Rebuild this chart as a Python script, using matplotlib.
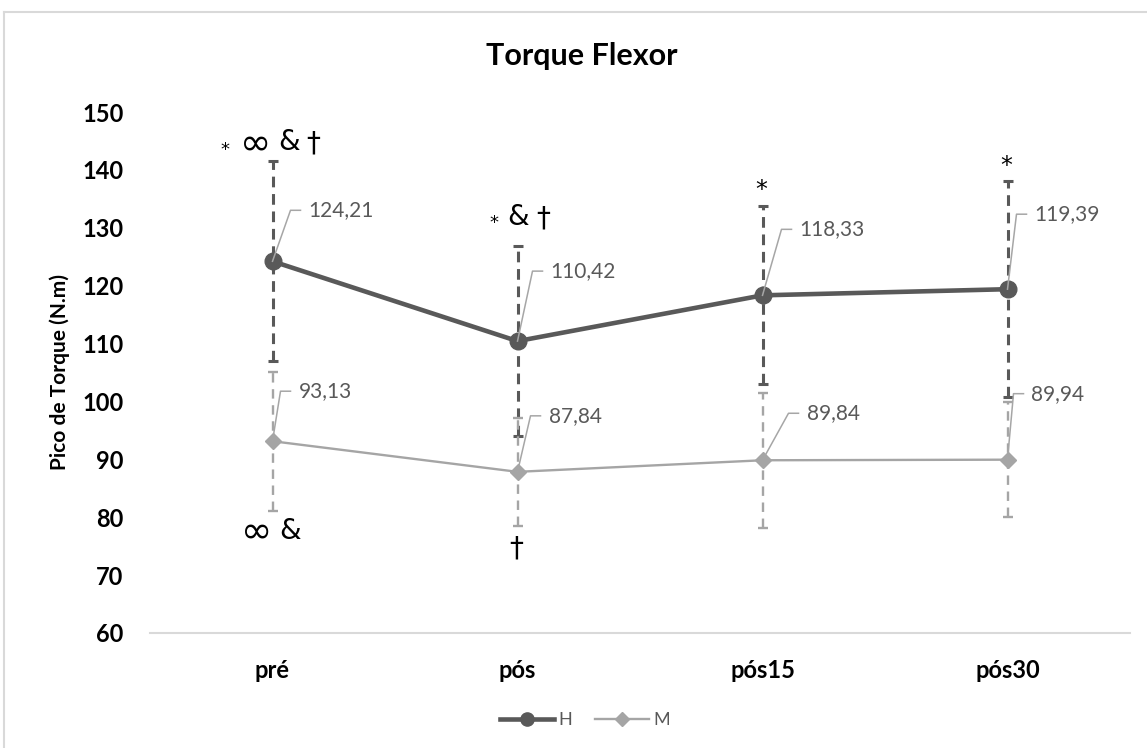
import matplotlib.pyplot as plt
import numpy as np
from matplotlib.lines import Line2D

plt.rcParams['font.family'] = ['Lato', 'DejaVu Sans']

momentos = ['pré', 'pós', 'pós15', 'pós30']
h_media = [124.21, 110.42, 118.33, 119.39]
h_dp = [17.3, 16.4, 15.4, 18.7]
m_media = [93.13, 87.84, 89.84, 89.94]
m_dp = [12.0, 9.3, 11.7, 9.9]

# offsets (px) of each value label from its point: text left edge, text middle
h_lab_off = [(36, 51), (33, 70), (37, 66), (27, 75)]
m_lab_off = [(26, 50), (31, 56), (44, 47), (24, 66)]

# significance marks, one glyph each:
# (category, series, above?, glyph, dx px, baseline px from cap, size)
marcas = [
    (0, 'H', True, '*', -48, 6, 13),
    (0, 'H', True, '∞', -17, 7, 27),
    (0, 'H', True, '&', 17, 11, 20),
    (0, 'H', True, '†', 41, 10, 20),
    (0, 'M', False, '∞', -16, 32, 27),
    (0, 'M', False, '&', 18, 28, 20),
    (1, 'H', True, '*', -24, 18, 13),
    (1, 'H', True, '&', 1, 21, 20),
    (1, 'H', True, '†', 26, 20, 20),
    (1, 'M', False, '†', -1, 31, 20),
    (2, 'H', True, '*', -1, 9, 17),
    (3, 'H', True, '*', -1, 8, 17),
]

cor_h = '#595959'
cor_m = '#A5A5A5'

fig = plt.figure(figsize=(11.47, 7.48), dpi=100)
ax = fig.add_axes([150 / 1147, 115 / 748, 980 / 1147, 521 / 748])

x = np.arange(len(momentos))

eb_h = ax.errorbar(x, h_media, yerr=h_dp, fmt='none', ecolor=cor_h,
                   elinewidth=2.2, capsize=3.6, capthick=2.2, zorder=2)
eb_h[2][0].set_linestyle((0, (3.5, 2.2)))
eb_m = ax.errorbar(x, m_media, yerr=m_dp, fmt='none', ecolor=cor_m,
                   elinewidth=1.7, capsize=3.6, capthick=1.7, zorder=2)
eb_m[2][0].set_linestyle((0, (4, 2.8)))

ax.plot(x, h_media, color=cor_h, lw=3.3, marker='o', ms=12, zorder=3)
ax.plot(x, m_media, color=cor_m, lw=1.7, marker='D', ms=8.5, zorder=3)

ax.set_xlim(-0.5, 3.5)
ax.set_ylim(60, 150)
ax.set_yticks(np.arange(60, 151, 10))
ax.set_xticks(x)
ax.set_xticklabels(momentos)
ax.tick_params(length=0, labelsize=17, labelcolor='#000000')
ax.tick_params(axis='y', pad=19)
ax.tick_params(axis='x', pad=19)
for lb in ax.get_xticklabels() + ax.get_yticklabels():
    lb.set_fontweight('bold')
for s in ['top', 'right', 'left']:
    ax.spines[s].set_visible(False)
ax.spines['bottom'].set_color('#D9D9D9')
ax.spines['bottom'].set_linewidth(1.5)

ax.set_ylabel('Pico de Torque (N.m)', fontsize=15, fontweight='bold', labelpad=9)
fig.text(582 / 1147, 1 - 65 / 748, 'Torque Flexor', fontsize=22,
         fontweight='bold', ha='center', va='baseline')

to_data = ax.transData.inverted()


def desloca(xv, yv, dx, dy):
    px, py = ax.transData.transform((xv, yv))
    return to_data.transform((px + dx, py + dy))


# value labels with leader lines
for medias, offs in [(h_media, h_lab_off), (m_media, m_lab_off)]:
    for i, v in enumerate(medias):
        dx, dy = offs[i]
        c = desloca(i, v, dx - 18, dy)
        e = desloca(i, v, dx - 8, dy)
        ax.plot([i, c[0], e[0]], [v, c[1], e[1]], color='#A6A6A6', lw=1.1, zorder=4)
        t = desloca(i, v, dx, dy)
        ax.text(t[0], t[1], f'{v:.2f}'.replace('.', ','), fontsize=15,
                color='#595959', ha='left', va='center', zorder=5)

# significance marks above / below the error bars
for i, serie, acima, glifo, dx, base, size in marcas:
    if serie == 'H':
        media, dp = h_media[i], h_dp[i]
    else:
        media, dp = m_media[i], m_dp[i]
    if acima:
        p = desloca(i, media + dp, dx, base)
    else:
        p = desloca(i, media - dp, dx, -base)
    ax.text(p[0], p[1], glifo, fontsize=size, ha='center', va='baseline',
            color='black', family='DejaVu Sans')

handles = [
    Line2D([], [], color=cor_h, lw=3.3, marker='o', ms=9.5),
    Line2D([], [], color=cor_m, lw=1.7, marker='D', ms=7),
]
fig.legend(handles, ['H', 'M'], loc='center', bbox_to_anchor=(0.51, 0.037),
           ncol=2, frameon=False, fontsize=13, handlelength=3.0,
           handletextpad=0.2, columnspacing=1.3, labelcolor='#595959')

# chart area border
fig.add_artist(Line2D([4 / 1147, 4 / 1147], [0, 1 - 12 / 748],
                      transform=fig.transFigure, color='#D9D9D9', lw=1.5))
fig.add_artist(Line2D([4 / 1147, 1], [1 - 12 / 748, 1 - 12 / 748],
                      transform=fig.transFigure, color='#D9D9D9', lw=1.5))

fig.savefig('out.png', dpi=100)
